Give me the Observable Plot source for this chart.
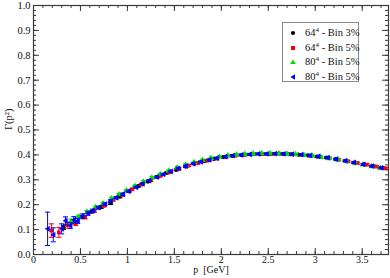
<!DOCTYPE html>
<html>
<head>
<meta charset="utf-8">
<script src="https://cdn.jsdelivr.net/npm/d3@7"></script>
<script src="https://cdn.jsdelivr.net/npm/@observablehq/plot@0.6"></script>
<style>
  html, body { margin: 0; padding: 0; background: #fff; }
  #wrap { position: relative; width: 390px; height: 278px; font-family: "Liberation Serif", "DejaVu Serif", serif; }
  #legend { position: absolute; left: 282px; top: 22px; width: 77px; height: 60px; border: 1px solid #8a8a8a; background: #fff; box-sizing: border-box; }
  .row { position: absolute; left: 0; height: 14px; width: 77px; font-size: 10.5px; color: #111; }
  .row svg { position: absolute; left: 6px; top: 2px; }
  .row span.t { position: absolute; left: 22px; top: 0px; white-space: nowrap; line-height: 14px; }
  .row sup { font-size: 7px; vertical-align: 0; position: relative; top: -4px; }
</style>
</head>
<body>
<div id="wrap"></div>
<script>
// ---- data ----
const xMajor = [0, 0.5, 1, 1.5, 2, 2.5, 3, 3.5];
const xLabels = ["0", "0.5", "1", "1.5", "2", "2.5", "3", "3.5"];
const xMinor = d3.range(0, 37.9, 1).map(v => v / 10);
const yMajor = [0, 0.1, 0.2, 0.3, 0.4, 0.5, 0.6, 0.7, 0.8, 0.9, 1.0];
const yLabels = ["0.0","0.1","0.2","0.3","0.4","0.5","0.6","0.7","0.8","0.9","1.0"];
const yMinor = d3.range(0, 50.5, 1).map(v => v / 50);

const seriesBase = ["64", "64", "80", "80"];
const seriesBin = ["Bin 3%", "Bin 5%", "Bin 5%", "Bin 5%"];
const seriesColor = ["#000000", "#ff0000", "#00e000", "#0000ff"];

// 64^4 - Bin 3% (black)
const pBlack = [0.32,0.42,0.52,0.62,0.72,0.82,0.92,1.02,1.12,1.22,1.32,1.42,1.52,1.62,1.72,1.82,1.92,2.02,2.12,2.22,2.32,2.42,2.52,2.62,2.72,2.82,2.92,3.02,3.12,3.22,3.32,3.42,3.52,3.62,3.72];
const gBlack = [0.108,0.130,0.150,0.172,0.190,0.206,0.232,0.255,0.275,0.293,0.312,0.328,0.340,0.353,0.366,0.375,0.384,0.391,0.396,0.399,0.402,0.403,0.404,0.405,0.403,0.401,0.398,0.393,0.389,0.383,0.376,0.370,0.362,0.355,0.348];
const eBlack = [0.008,0.007,0.006,0.005,0.005,0.005,0.004,0.004,0.004,0.004,0.004,0.004,0.004,0.004,0.004,0.003,0.003,0.003,0.003,0.003,0.003,0.003,0.003,0.003,0.003,0.003,0.003,0.003,0.003,0.003,0.003,0.003,0.003,0.003,0.003];

// 64^4 - Bin 5% (red)
const pRed = [0.19,0.27,0.36,0.45,0.55,0.65,0.75,0.85,0.95,1.05,1.15,1.25,1.35,1.45,1.55,1.65,1.75,1.85,1.95,2.05,2.15,2.25,2.35,2.45,2.55,2.65,2.75,2.85,2.95,3.05,3.15,3.25,3.35,3.45,3.55,3.65,3.75];
const gRed = [0.096,0.089,0.118,0.125,0.150,0.176,0.196,0.220,0.240,0.262,0.281,0.298,0.316,0.330,0.344,0.357,0.367,0.377,0.385,0.392,0.397,0.400,0.403,0.403,0.404,0.404,0.402,0.400,0.396,0.392,0.387,0.381,0.374,0.367,0.361,0.353,0.346];
const eRed = [0.027,0.020,0.012,0.009,0.007,0.006,0.005,0.005,0.005,0.004,0.004,0.004,0.004,0.004,0.004,0.004,0.004,0.004,0.004,0.004,0.004,0.004,0.004,0.004,0.004,0.004,0.004,0.004,0.004,0.004,0.004,0.004,0.004,0.004,0.004,0.004,0.004];

// 80^4 - Bin 5% (green)
const pGreen = [0.40,0.48,0.57,0.66,0.74,0.83,0.91,0.99,1.08,1.17,1.26,1.35,1.44,1.53,1.62,1.71,1.80,1.89,1.98,2.07,2.16,2.25,2.34,2.43,2.52,2.61,2.70,2.79,2.88,2.97,3.06,3.15,3.24,3.33,3.42,3.51,3.60,3.69];
const gGreen = [0.134,0.151,0.171,0.189,0.205,0.225,0.241,0.257,0.275,0.292,0.308,0.322,0.336,0.349,0.360,0.370,0.379,0.387,0.392,0.397,0.401,0.403,0.405,0.406,0.406,0.405,0.404,0.402,0.399,0.396,0.391,0.386,0.381,0.375,0.368,0.361,0.354,0.348];
const eGreen = [0.008,0.007,0.006,0.005,0.005,0.005,0.004,0.004,0.004,0.004,0.004,0.004,0.004,0.004,0.004,0.004,0.004,0.004,0.004,0.004,0.004,0.004,0.004,0.004,0.004,0.004,0.004,0.004,0.004,0.004,0.004,0.004,0.004,0.004,0.004,0.004,0.004,0.004];

// 80^4 - Bin 5% (blue)
const pBlue = [0.15,0.21,0.30,0.34,0.39,0.43,0.47,0.52,0.58,0.63,0.69,0.76,0.82,0.88,0.95,1.01,1.09,1.16,1.23,1.31,1.38,1.46,1.54,1.62,1.70,1.78,1.87,1.95,2.04,2.12,2.21,2.30,2.39,2.48,2.57,2.66,2.75,2.85,2.94,3.03,3.13,3.22,3.32,3.41,3.51,3.60,3.70];
const gBlue = [0.103,0.079,0.103,0.136,0.116,0.140,0.135,0.155,0.165,0.176,0.188,0.202,0.215,0.228,0.242,0.254,0.270,0.284,0.297,0.311,0.322,0.334,0.346,0.355,0.364,0.372,0.380,0.387,0.393,0.397,0.400,0.402,0.404,0.404,0.405,0.404,0.403,0.401,0.398,0.394,0.389,0.383,0.376,0.369,0.362,0.355,0.348];
const eBlue = [0.067,0.028,0.020,0.015,0.012,0.012,0.010,0.008,0.007,0.006,0.006,0.005,0.005,0.005,0.005,0.004,0.004,0.004,0.004,0.004,0.004,0.004,0.004,0.004,0.004,0.004,0.004,0.004,0.004,0.004,0.004,0.004,0.004,0.004,0.004,0.004,0.004,0.004,0.004,0.004,0.004,0.004,0.004,0.004,0.004,0.004,0.004];

// ---- build tables ----
const mk = (p, g, e, s) => p.map((v, i) => ({p: v, g: g[i], lo: g[i] - e[i], hi: g[i] + e[i], s}));
const groups = [
  mk(pBlack, gBlack, eBlack, 0),
  mk(pRed, gRed, eRed, 1),
  mk(pGreen, gGreen, eGreen, 2),
  mk(pBlue, gBlue, eBlue, 3)
];

// custom symbols
const capSym = { draw(ctx) { ctx.moveTo(-2.6, 0); ctx.lineTo(2.6, 0); } };
const leftTri = { draw(ctx) { const r = 2.9; ctx.moveTo(-r, 0); ctx.lineTo(r * 0.75, -r); ctx.lineTo(r * 0.75, r); ctx.closePath(); } };
const seriesSymbol = ["circle", "square", "triangle", leftTri];
const seriesR = [2.1, 2.1, 2.3, 3];

const W = 390, H = 278, mL = 33, mR = 2, mT = 5, mB = 24;
const innerW = W - mL - mR, innerH = H - mT - mB;
const axisColor = "#3a3a3a";

const marks = [];
groups.forEach((data, k) => {
  const c = seriesColor[k];
  marks.push(Plot.ruleX(data, {x: "p", y1: "lo", y2: "hi", stroke: c, strokeWidth: 1}));
  marks.push(Plot.dot(data, {x: "p", y: "lo", symbol: capSym, stroke: c, fill: "none", strokeWidth: 1}));
  marks.push(Plot.dot(data, {x: "p", y: "hi", symbol: capSym, stroke: c, fill: "none", strokeWidth: 1}));
  marks.push(Plot.dot(data, {x: "p", y: "g", symbol: seriesSymbol[k], r: seriesR[k], fill: c, stroke: "none"}));
});

// inward ticks on all four sides
marks.push(Plot.tickX(xMajor, {x: d => d, insetTop: innerH - 6, stroke: axisColor}));
marks.push(Plot.tickX(xMinor, {x: d => d, insetTop: innerH - 3, stroke: axisColor}));
marks.push(Plot.tickX(xMajor, {x: d => d, insetBottom: innerH - 6, stroke: axisColor}));
marks.push(Plot.tickX(xMinor, {x: d => d, insetBottom: innerH - 3, stroke: axisColor}));
marks.push(Plot.tickY(yMajor, {y: d => d, insetRight: innerW - 6, stroke: axisColor}));
marks.push(Plot.tickY(yMinor, {y: d => d, insetRight: innerW - 3, stroke: axisColor}));
marks.push(Plot.tickY(yMajor, {y: d => d, insetLeft: innerW - 6, stroke: axisColor}));
marks.push(Plot.tickY(yMinor, {y: d => d, insetLeft: innerW - 3, stroke: axisColor}));
marks.push(Plot.frame({stroke: axisColor, strokeWidth: 1.2}));

marks.push(Plot.axisX(xMajor, {tickSize: 0, tickPadding: 1.5, tickFormat: (d, i) => xLabels[i], fontSize: 10, fill: "#111", label: null}));
marks.push(Plot.axisY(yMajor, {tickSize: 0, tickPadding: 3, tickFormat: (d, i) => yLabels[i], fontSize: 10.5, fill: "#111", label: null}));
marks.push(Plot.text(["p  [GeV]"], {frameAnchor: "bottom", dy: 18.5, text: d => d, fontSize: 10, fill: "#111"}));
marks.push(Plot.text(["Γ(p²)"], {frameAnchor: "left", dx: -25, rotate: -90, text: d => d, fontSize: 10.5, fill: "#111"}));

const chart = Plot.plot({
  width: W, height: H,
  marginLeft: mL, marginRight: mR, marginTop: mT, marginBottom: mB,
  x: {domain: [0, 3.78], axis: null},
  y: {domain: [0, 1], axis: null},
  style: {fontFamily: "'Liberation Serif', 'DejaVu Serif', serif", background: "#fff", overflow: "visible"},
  marks
});
const wrap = document.getElementById("wrap");
wrap.appendChild(chart);

// legend (inside the plot area, upper right)
const legend = document.createElement("div");
legend.id = "legend";
const symSvg = [
  `<circle cx="4" cy="5" r="2.1" fill="${seriesColor[0]}"/>`,
  `<rect x="2" y="3" width="4" height="4" fill="${seriesColor[1]}"/>`,
  `<path d="M4,2.2 L6.8,7 L1.2,7 Z" fill="${seriesColor[2]}"/>`,
  `<path d="M1.3,5 L6,2.2 L6,7.8 Z" fill="${seriesColor[3]}"/>`
];
seriesBase.forEach((b, i) => {
  const row = document.createElement("div");
  row.className = "row";
  row.style.top = (3 + i * 14.5) + "px";
  row.innerHTML = `<svg width="9" height="10">${symSvg[i]}</svg><span class="t">${b}<sup>4</sup> - ${seriesBin[i]}</span>`;
  legend.appendChild(row);
});
wrap.appendChild(legend);
</script>
</body>
</html>
